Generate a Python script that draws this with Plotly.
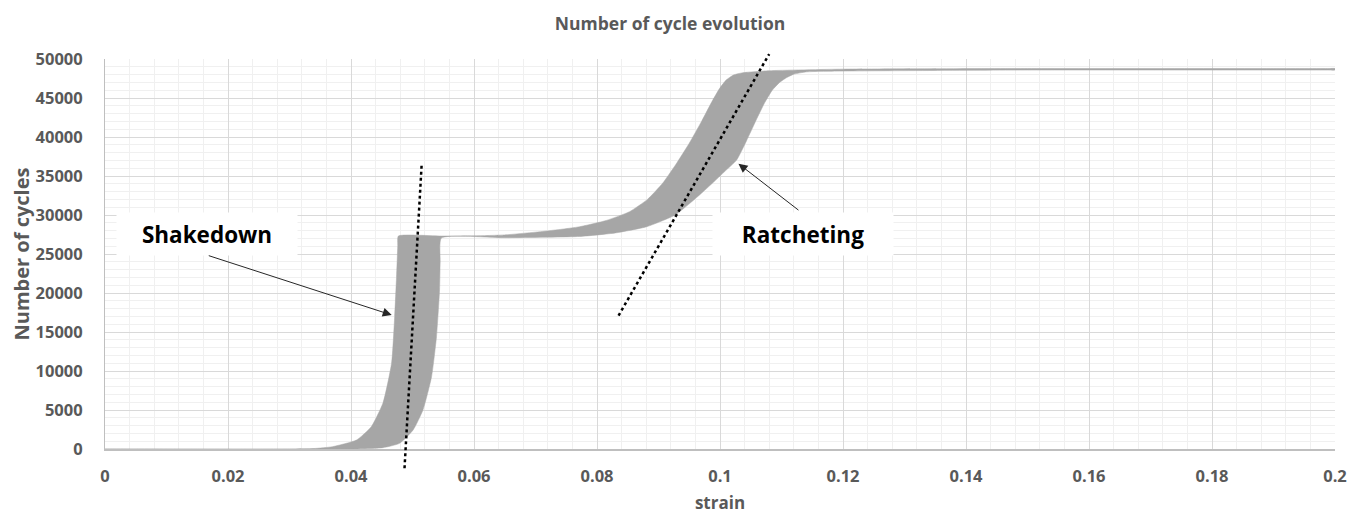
import plotly.graph_objects as go

# Left / upper edge of the cycle band (strain, cycles), ascending strain
upper_strain = [0.000, 0.030, 0.034, 0.037, 0.0409, 0.0433, 0.0452, 0.0466, 0.0471, 0.0474, 0.0476,
                0.0477, 0.0547, 0.060, 0.065, 0.070, 0.074, 0.0772, 0.0815, 0.0853, 0.0882, 0.0907,
                0.0930, 0.0950, 0.0970, 0.0988, 0.1000, 0.1010, 0.1022, 0.1037, 0.108, 0.120, 0.150,
                0.190, 0.199, 0.200]
upper_cycles = [0, 0, 60, 300, 1150, 2860, 5900, 11000, 17000, 22000, 26000,
                27300, 27300, 27330, 27450, 27800, 28150, 28500, 29300, 30430, 32000, 34100,
                36700, 39200, 42000, 44700, 46300, 47300, 47950, 48240, 48500, 48700, 48780,
                48780, 48780, 48780]

# Right / lower edge of the cycle band, descending strain
lower_strain = [0.200, 0.199, 0.190, 0.150, 0.120, 0.1141, 0.1120, 0.1108, 0.1097, 0.1085, 0.1072,
                0.1059, 0.1043, 0.1027, 0.1008, 0.0988, 0.0960, 0.0927, 0.0881, 0.0830, 0.0772,
                0.065, 0.0547, 0.0545, 0.0544, 0.0539, 0.0531, 0.0517, 0.0501, 0.0479, 0.0452,
                0.0398, 0.000]
lower_cycles = [48580, 48580, 48580, 48580, 48450, 48350, 48050, 47600, 47000, 46000, 44300,
                42200, 39500, 37050, 35600, 34100, 32100, 30000, 28500, 27700, 27250,
                27080, 27050, 24000, 20400, 14400, 9270, 5000, 2440, 730, 170,
                0, 0]

# Dotted trend lines (strain, cycles)
shake_line_strain = [0.0487, 0.0515]
shake_line_cycles = [-2470, 36630]
ratchet_line_strain = [0.0835, 0.1080]
ratchet_line_cycles = [17100, 50640]

# Labels: (text, box-centre strain, box-centre cycles, arrow tail, arrow head)
labels = ["Shakedown", "Ratcheting"]
label_strain = [0.01657, 0.11348]
label_cycles = [27600, 27600]
arrow_tail_strain = [0.01663, 0.1130]
arrow_tail_cycles = [24850, 30480]
arrow_head_strain = [0.04662, 0.1030]
arrow_head_cycles = [17180, 36580]

x_ticks = [0, 0.02, 0.04, 0.06, 0.08, 0.1, 0.12, 0.14, 0.16, 0.18, 0.2]
x_tick_text = ["0", "0.02", "0.04", "0.06", "0.08", "0.1", "0.12", "0.14", "0.16", "0.18", "0.2"]
y_ticks = [0, 5000, 10000, 15000, 20000, 25000, 30000, 35000, 40000, 45000, 50000]
y_tick_text = ["0", "5000", "10000", "15000", "20000", "25000", "30000", "35000", "40000", "45000", "50000"]
y_max = 50000

GRAY_TXT = "#595959"
FONT = "Open Sans"

fig = go.Figure()
fig.add_trace(go.Scatter(
    x=upper_strain + lower_strain,
    y=upper_cycles + lower_cycles,
    mode="lines", fill="toself",
    fillcolor="#a6a6a6",
    line=dict(color="#a6a6a6", width=0.5, shape="spline", smoothing=0.5),
    hoverinfo="skip", showlegend=False,
))

for xs, ys in [(shake_line_strain, shake_line_cycles), (ratchet_line_strain, ratchet_line_cycles)]:
    fig.add_shape(type="line", xref="x", yref="y domain",
                  x0=xs[0], x1=xs[1], y0=ys[0] / y_max, y1=ys[1] / y_max,
                  line=dict(color="black", width=2.5, dash="dot"))

for i, t in enumerate(labels):
    fig.add_annotation(x=label_strain[i], y=label_cycles[i], xref="x", yref="y",
                       text="<b>" + t + "</b>", showarrow=False,
                       bgcolor="white", width=180, height=42, borderpad=0,
                       font=dict(family=FONT, size=22.5, color="black"))
    fig.add_annotation(x=arrow_head_strain[i], y=arrow_head_cycles[i],
                       ax=arrow_tail_strain[i], ay=arrow_tail_cycles[i],
                       xref="x", yref="y", axref="x", ayref="y",
                       text="", showarrow=True, arrowhead=2, arrowsize=1.8,
                       arrowwidth=1, arrowcolor="#262626")

fig.update_layout(
    width=1355, height=508,
    margin=dict(l=97, r=28, t=51, b=67, autoexpand=False),
    paper_bgcolor="white", plot_bgcolor="white",
    title=dict(text="<b>Number of cycle evolution</b>", x=0.4886, xanchor="center",
               y=0.9685, yanchor="middle",
               font=dict(family=FONT, size=17.5, color=GRAY_TXT)),
    font=dict(family=FONT, color=GRAY_TXT),
)
fig.update_xaxes(
    range=[0, 0.2], tickvals=x_ticks, ticktext=["<b>%s</b>" % s for s in x_tick_text],
    tickfont=dict(family=FONT, size=16.5, color=GRAY_TXT), automargin=False,
    showgrid=True, gridcolor="#d9d9d9", gridwidth=1,
    minor=dict(dtick=0.004, showgrid=True, gridcolor="#f0f0f0", gridwidth=1),
    zeroline=False, showline=True, linecolor="#bfbfbf", linewidth=1.5,
    ticks="outside", ticklen=11, tickcolor="rgba(0,0,0,0)",
    title=dict(text="<b>strain</b>", font=dict(family=FONT, size=17, color=GRAY_TXT), standoff=12),
)
fig.update_yaxes(
    range=[0, y_max], tickvals=y_ticks, ticktext=["<b>%s</b>" % s for s in y_tick_text],
    tickfont=dict(family=FONT, size=16.5, color=GRAY_TXT), automargin=False,
    showgrid=True, gridcolor="#d9d9d9", gridwidth=1,
    minor=dict(dtick=1000, showgrid=True, gridcolor="#f0f0f0", gridwidth=1),
    zeroline=False, showline=True, linecolor="#bfbfbf", linewidth=1,
    ticks="outside", ticklen=18, tickcolor="rgba(0,0,0,0)",
    title=dict(text="<b>Number of cycles</b>", font=dict(family=FONT, size=20, color=GRAY_TXT), standoff=14),
)

fig.write_html("out.html")
